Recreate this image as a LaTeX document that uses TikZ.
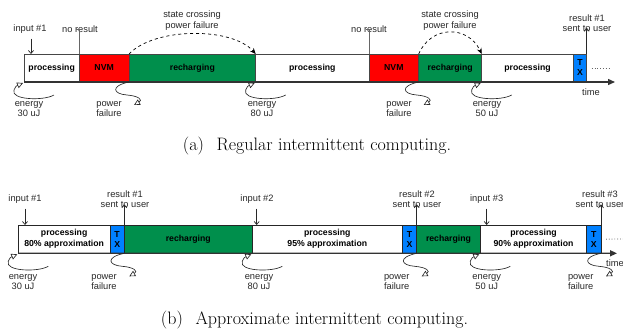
\documentclass[tikz,border=0pt]{standalone}
\usepackage{fontspec}
\setsansfont{Liberation Sans}
\usetikzlibrary{arrows.meta}
\definecolor{nvmred}{RGB}{255,0,0}
\definecolor{rgreen}{RGB}{0,143,76}
\definecolor{txblue}{RGB}{0,128,255}
\definecolor{edgea}{RGB}{70,70,70}
\definecolor{labc}{RGB}{40,40,40}
\newcommand\segbox[7]{\node[box,#5,minimum width={#3pt-#2pt},minimum height=#6] (#1) at ({(#2+#3)/2},#4) {#7};}
\newcommand\energysq[1]{\draw[squig] ([shift={(30,13)}]#1) .. controls ([shift={(20,19)}]#1) and ([shift={(-14,18)}]#1) .. ([shift={(-10,8)}]#1) .. controls ([shift={(-8,4)}]#1) .. ([shift={(-1,1)}]#1);}
\newcommand\pfailsq[1]{\draw[squig] (#1) .. controls ([shift={(-19,4)}]#1) and ([shift={(-16,12)}]#1) .. ([shift={(-2,13)}]#1) .. controls ([shift={(10,14)}]#1) and ([shift={(14,18)}]#1) .. ([shift={(5,23)}]#1);}
\begin{document}
\begin{tikzpicture}[x=1pt,y=-1pt,
 lbl/.style={font=\sffamily\fontsize{9.3}{10.3}\selectfont, align=center, inner sep=0pt, text=labc},
 box/.style={draw=edgea, line width=0.8pt, inner sep=0pt, outer sep=0pt, align=center, font=\sffamily\bfseries\fontsize{8.7}{11}\selectfont},
 boxb/.style={draw=black!85},
 squig/.style={line width=0.65pt, draw=labc, -{Triangle[open, length=6pt, width=6pt]}},
 inarr/.style={line width=0.7pt, draw=labc, -{Straight Barb[length=3pt,width=5pt]}},
 nores/.style={line width=0.8pt, draw=black!60, {Bar[width=6pt]}-},
 cross/.style={line width=0.7pt, dashed, -{Stealth[length=6pt,width=5pt]}},
 axis/.style={line width=1.3pt, draw=black!80, -{Triangle[length=7pt,width=6pt]}},
 dots/.style={line width=0.8pt, dotted, draw=black!60},
 capt/.style={font=\fontsize{18}{20}\selectfont, inner sep=0pt}
]
\useasboundingbox (0,0) rectangle (623,335);
% ---------- row (a)
\segbox{a1}{24}{79.3}{68}{fill=white}{28}{processing}
\segbox{a2}{79.3}{129}{68}{fill=nvmred}{28}{NVM}
\segbox{a3}{129}{255.7}{68}{fill=rgreen}{28}{recharging}
\segbox{a4}{255.7}{369}{68}{fill=white}{28}{processing}
\segbox{a5}{369}{418.7}{68}{fill=nvmred}{28}{NVM}
\segbox{a6}{418.7}{481.7}{68}{fill=rgreen}{28}{recharging}
\segbox{a7}{481.7}{573.3}{68}{fill=white}{28}{processing}
\segbox{a8}{573.3}{586.7}{68}{fill=txblue}{28}{T\\[-1pt]X}
\coordinate (aend) at (615,82);
\draw[axis] (a1.south west) -- (aend);
\coordinate (adot) at (609,68);
\draw[dots] ([xshift=5pt]a8.east) -- (adot);
\node[lbl] (ain1) at (30,29) {input \#1};
\draw[inarr] (ain1.south -| 31,0) ++(0,5) -- ([xshift=7pt]a1.north west);
\node[lbl] (anr1) at (80,29) {no result};
\draw[nores] ([yshift=4pt]anr1.south -| a1.north east) -- (a1.north east);
\node[lbl] (anr2) at (369,29) {no result};
\draw[nores] ([yshift=4pt]anr2.south -| a4.north east) -- (a4.north east);
\node[lbl] (asc1) at (192,20.5) {state crossing\\power failure};
\draw[cross] (a2.north east) .. controls (155,27) and (232,27) .. (a3.north east);
\node[lbl] (asc2) at (450,20.5) {state crossing\\power failure};
\draw[cross] (a5.north east) .. controls (431,25) and (468,25) .. (a6.north east);
\node[lbl] (ares) at (587,23) {result \#1\\sent to user};
\draw[inarr] (a8.north east) -- ([yshift=4pt]ares.south -| a8.north east);
\node[lbl] (atime) at (591,92) {time};
\node[lbl] (aen1) at (29,109) {energy\\30 uJ};
\energysq{a1.south west}
\node[lbl] (apf1) at (109,109) {power\\failure};
\pfailsq{a2.south east}
\node[lbl] (aen2) at (262,109) {energy\\80 uJ};
\energysq{a3.south east}
\node[lbl] (apf2) at (399,109) {power\\failure};
\pfailsq{a5.south east}
\node[lbl] (aen3) at (487,109) {energy\\50 uJ};
\energysq{a6.south east}
\node[capt] (capa) at (317,146) {(a)\hspace{0.4em} Regular intermittent computing.};
% ---------- row (b)
\segbox{b1}{18.3}{110}{239.15}{fill=white,boxb}{28.3}{processing\\80\% approximation}
\segbox{b2}{110}{124.3}{239.15}{fill=txblue,boxb}{28.3}{T\\[-1pt]X}
\segbox{b3}{124.3}{252.3}{239.15}{fill=rgreen,boxb}{28.3}{recharging}
\segbox{b4}{252.3}{402.3}{239.15}{fill=white,boxb}{28.3}{processing\\95\% approximation}
\segbox{b5}{402.3}{416.7}{239.15}{fill=txblue,boxb}{28.3}{T\\[-1pt]X}
\segbox{b6}{416.7}{480.3}{239.15}{fill=rgreen,boxb}{28.3}{recharging}
\segbox{b7}{480.3}{586.7}{239.15}{fill=white,boxb}{28.3}{processing\\90\% approximation}
\segbox{b8}{586.7}{601}{239.15}{fill=txblue,boxb}{28.3}{T\\[-1pt]X}
\coordinate (bend) at (617,253.3);
\draw[axis] (b1.south west) -- (bend);
\coordinate (bdot) at (624,239);
\draw[dots] ([xshift=5pt]b8.east) -- (bdot);
\node[lbl] (bin1) at (25,199) {input \#1};
\draw[inarr] (bin1.south -| 25,0) ++(0,5) -- ([xshift=6.7pt]b1.north west);
\node[lbl] (bres1) at (125,199.5) {result \#1\\sent to user};
\draw[inarr] (b2.north east) -- ([yshift=4pt]bres1.south -| b2.north east);
\node[lbl] (bin2) at (257,199) {input \#2};
\draw[inarr] (bin2.south -| 256.7,0) ++(0,5) -- ([xshift=4.4pt]b4.north west);
\node[lbl] (bres2) at (417,199.5) {result \#2\\sent to user};
\draw[inarr] (b5.north east) -- ([yshift=4pt]bres2.south -| b5.north east);
\node[lbl] (bin3) at (486.7,199) {input \#3};
\draw[inarr] (bin3.south -| 486.7,0) ++(0,5) -- ([xshift=6.4pt]b7.north west);
\node[lbl] (bres3) at (600,199.5) {result \#3\\sent to user};
\draw[inarr] (b8.north east) -- ([yshift=4pt]bres3.south -| b8.north east);
\node[lbl,anchor=west] (btime) at (606,263) {time};
\node[lbl] (ben1) at (23,282) {energy\\30 uJ};
\energysq{b1.south west}
\node[lbl] (bpf1) at (104,282) {power\\failure};
\pfailsq{b2.south east}
\node[lbl] (ben2) at (259,282) {energy\\80 uJ};
\energysq{b3.south east}
\node[lbl] (bpf2) at (396.7,282) {power\\failure};
\pfailsq{b5.south east}
\node[lbl] (ben3) at (486.7,282) {energy\\50 uJ};
\energysq{b6.south east}
\node[lbl] (bpf3) at (580.7,282) {power\\failure};
\pfailsq{b8.south east}
\node[capt] (capb) at (314.5,320) {(b)\hspace{0.4em} Approximate intermittent computing.};
\end{tikzpicture}
\end{document}
